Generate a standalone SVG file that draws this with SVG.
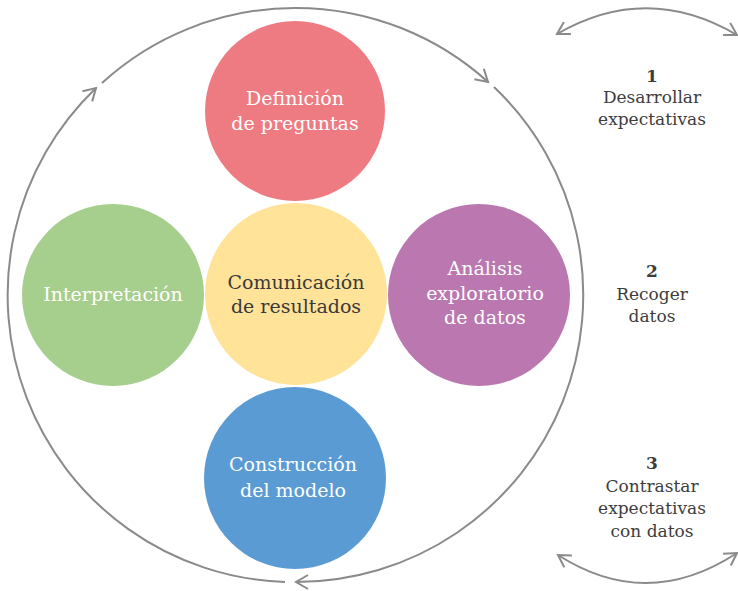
<svg xmlns="http://www.w3.org/2000/svg" width="738" height="591" viewBox="0 0 738 591">
<style>
.t{font-family:"DejaVu Serif","Liberation Serif",serif;font-size:19px;text-anchor:middle;fill:#ffffff}
.d{fill:#3a3a3a}
.r{font-family:"DejaVu Serif","Liberation Serif",serif;font-size:17px;text-anchor:middle;fill:#3d3d3d}
.n{font-weight:bold}
.c{fill:none;stroke:#8a8a8a;stroke-width:2}
</style>
<defs>
<marker id="ah" markerUnits="userSpaceOnUse" markerWidth="30" markerHeight="30" refX="0" refY="0" viewBox="-15 -15 30 30" orient="auto-start-reverse" overflow="visible">
<path d="M-12,-7 L0,0 L-12,7" fill="none" stroke="#8a8a8a" stroke-width="2" stroke-linejoin="miter"/>
</marker>
</defs>
<g id="connectors">
<path class="c" d="M102,83 A287,287 0 0 1 488,82" marker-end="url(#ah)"/>
<path class="c" d="M494,87 A287,287 0 0 1 296,582" marker-end="url(#ah)"/>
<path class="c" d="M285,582 A287,287 0 0 1 96,88" marker-end="url(#ah)"/>
<path class="c" d="M557,34 Q647,-18 737,35" marker-start="url(#ah)" marker-end="url(#ah)"/>
<path class="c" d="M558,555 Q647,612 737,553" marker-start="url(#ah)" marker-end="url(#ah)"/>
</g>
<g id="definicion">
<circle cx="295" cy="111" r="90" fill="#EE7B82"/>
<text class="t" x="295" y="105">Definición</text>
<text class="t" x="295" y="130">de preguntas</text>
</g>
<g id="interpretacion">
<circle cx="113" cy="295" r="91" fill="#A6CE8C"/>
<text class="t" x="113" y="301">Interpretación</text>
</g>
<g id="comunicacion">
<circle cx="296" cy="294" r="91" fill="#FFE399"/>
<text class="t d" x="296" y="289">Comunicación</text>
<text class="t d" x="296" y="313">de resultados</text>
</g>
<g id="analisis">
<circle cx="479" cy="295" r="91" fill="#BA77B0"/>
<text class="t" x="485" y="275">Análisis</text>
<text class="t" x="485" y="300">exploratorio</text>
<text class="t" x="485" y="324">de datos</text>
</g>
<g id="construccion">
<circle cx="295" cy="478" r="91" fill="#5A9BD3"/>
<text class="t" x="293" y="471">Construcción</text>
<text class="t" x="293" y="497">del modelo</text>
</g>
<g id="paso1">
<text class="r n" x="652" y="82">1</text>
<text class="r" x="652" y="103">Desarrollar</text>
<text class="r" x="652" y="125">expectativas</text>
</g>
<g id="paso2">
<text class="r n" x="652" y="277">2</text>
<text class="r" x="652" y="300">Recoger</text>
<text class="r" x="652" y="322">datos</text>
</g>
<g id="paso3">
<text class="r n" x="652" y="469">3</text>
<text class="r" x="652" y="492">Contrastar</text>
<text class="r" x="652" y="514">expectativas</text>
<text class="r" x="652" y="537">con datos</text>
</g>
</svg>
